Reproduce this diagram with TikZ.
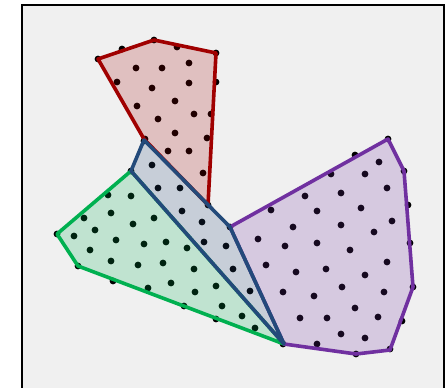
\documentclass[tikz,border=0pt]{standalone}
\usepackage{tikz}
\usetikzlibrary{positioning}
\usepackage{xcolor}
\definecolor{hullred}{HTML}{A00000}
\definecolor{hullblue}{HTML}{234A7A}
\definecolor{hullgreen}{HTML}{00B050}
\definecolor{hullpurple}{HTML}{7030A0}
\definecolor{panel}{HTML}{F0F0F0}
\begin{document}
\begin{tikzpicture}[x=1pt,y=-1pt,
  pt/.style={fill=black},
  hull/.style={line width=3.6pt,line join=round,fill opacity=0.2,draw opacity=1}]
\useasboundingbox (0,0) rectangle (447,388);
\draw[line width=2.4pt,fill=panel] (22,5) rectangle (444,390);
% points of each cluster
\foreach \p in {(98,59),(122,49),(154,40),(177,47),(216,53),(136,68),(162,68),(189,63),(117,82),(152,88),(189,83),(216,82),(137,106),(175,101),(158,119),(194,114),(211,114),(175,133),(207,138),(145,139),(168,151),(189,151),(203,173),(208,205)}
  \fill[pt] \p circle (3.4pt);
\foreach \p in {(144,141),(131,171),(152,165),(158,188),(180,188),(182,211),(202,222),(204,242),(226,246),(230,227),(233,269),(250,291),(283,344)}
  \fill[pt] \p circle (3.4pt);
\foreach \p in {(108,195),(131,196),(111,213),(84,218),(133,224),(154,218),(95,230),(74,236),(57,234),(116,240),(144,244),(166,242),(90,250),(187,248),(111,261),(138,265),(163,263),(194,269),(78,266),(113,281),(148,288),(171,283),(195,292),(216,286),(184,306),(222,306),(216,319),(242,316),(255,328)}
  \fill[pt] \p circle (3.4pt);
\foreach \p in {(388,139),(355,155),(379,162),(331,174),(365,174),(404,171),(341,193),(387,188),(305,196),(271,210),(317,211),(361,208),(408,205),(293,227),(341,225),(392,221),(374,232),(258,239),(285,246),(317,243),(350,250),(410,243),(266,265),(296,272),(326,269),(365,275),(387,262),(283,292),(314,296),(342,287),(384,292),(413,287),(355,308),(300,318),(327,318),(378,317),(402,321),(341,334),(365,338),(317,344),(356,354),(390,349)}
  \fill[pt] \p circle (3.4pt);
% convex hulls
\draw[hull,draw=hullred,fill=hullred] (98,59) -- (154,40) -- (216,53) -- (208,205) -- (144,139) -- cycle;
\draw[hull,draw=hullgreen,fill=hullgreen] (131,171) -- (57,234) -- (78,266) -- (284,344) -- cycle;
\draw[hull,draw=hullpurple,fill=hullpurple] (230,227) -- (388,139) -- (404,171) -- (413,287) -- (390,350) -- (356,354) -- (284,344) -- cycle;
\draw[hull,draw=hullblue,fill=hullblue] (144,140) -- (131,171) -- (284,344) -- (230,227) -- cycle;
\end{tikzpicture}
\end{document}
